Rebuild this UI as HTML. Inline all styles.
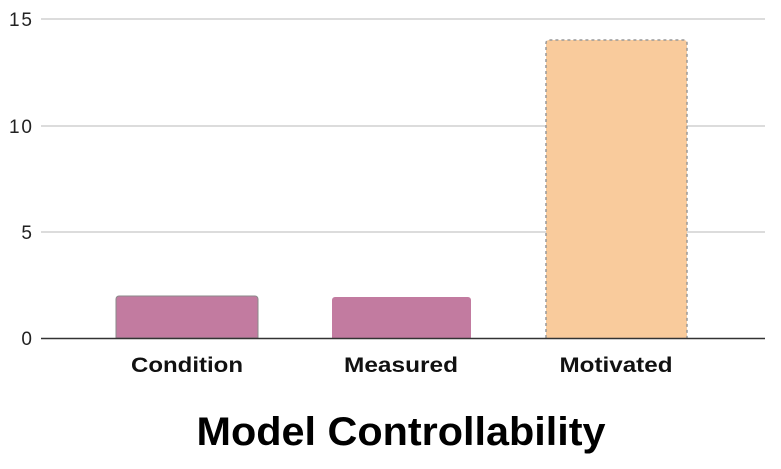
<!DOCTYPE html>
<html><head><style>
body{margin:0;background:#fff;}
svg{display:block;}
</style></head><body>
<svg width="781" height="469" xmlns="http://www.w3.org/2000/svg" font-family="Liberation Sans, Arial, sans-serif">
<g stroke="#d0d0d0" stroke-width="1.5">
<line x1="41" y1="19" x2="765" y2="19"/>
<line x1="41" y1="126" x2="765" y2="126"/>
<line x1="41" y1="232" x2="765" y2="232"/>
</g>
<g font-size="19" fill="#222" text-anchor="end">
<text x="32" y="26" textLength="23">15</text>
<text x="32" y="133" textLength="23">10</text>
<text x="32" y="239">5</text>
<text x="32" y="345">0</text>
</g>
<path d="M116,338 V299 a3,3 0 0 1 3,-3 H255 a3,3 0 0 1 3,3 V338 Z" fill="#c27ba0" stroke="#8a8a8a" stroke-width="1"/>
<path d="M332,338 V300 a3,3 0 0 1 3,-3 H468 a3,3 0 0 1 3,3 V338 Z" fill="#c27ba0"/>
<path d="M546,338 V43 a3,3 0 0 1 3,-3 H684 a3,3 0 0 1 3,3 V338" fill="#f9cb9c" stroke="#999" stroke-width="1.5" stroke-dasharray="3,3"/>
<line x1="41" y1="338.5" x2="765" y2="338.5" stroke="#333" stroke-width="1.5"/>
<g font-size="21" font-weight="bold" fill="#111" text-anchor="middle">
<text x="187" y="372" textLength="112" lengthAdjust="spacingAndGlyphs">Condition</text>
<text x="401" y="372" textLength="114" lengthAdjust="spacingAndGlyphs">Measured</text>
<text x="616" y="372" textLength="113" lengthAdjust="spacingAndGlyphs">Motivated</text>
</g>
<text x="401" y="445" font-size="40" font-weight="bold" fill="#000" text-anchor="middle" textLength="409" lengthAdjust="spacingAndGlyphs">Model Controllability</text>
</svg>
</body></html>
